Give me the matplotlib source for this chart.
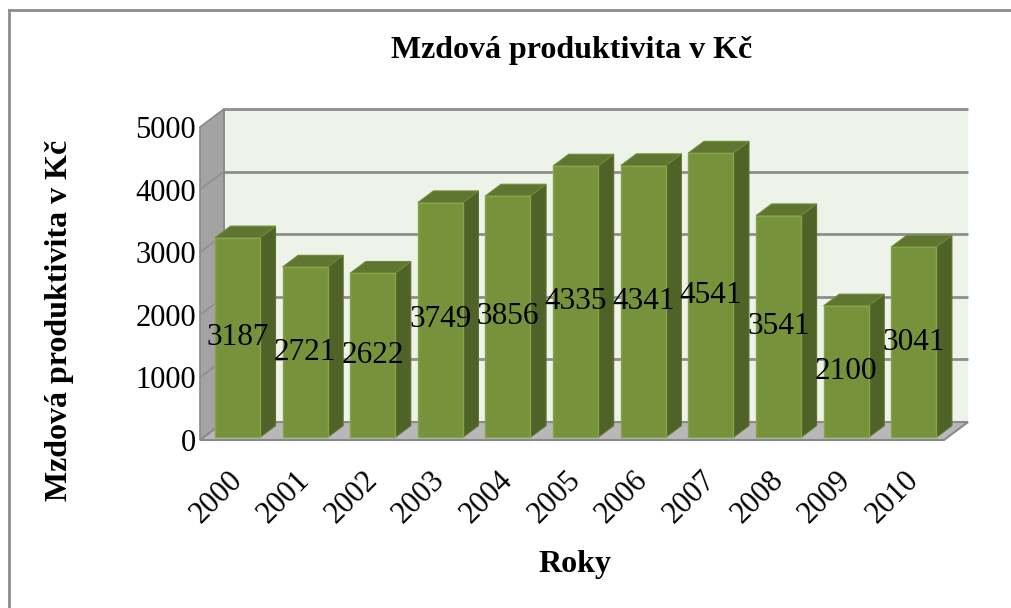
"""
Mzdová produktivita v Kč - 3D-style column chart (Excel look) in plain matplotlib.
"""

import matplotlib
matplotlib.use("Agg")
import matplotlib.pyplot as plt
from matplotlib.patches import Polygon
from matplotlib.lines import Line2D
import matplotlib.transforms as mtransforms
import numpy as np

years = ["2000", "2001", "2002", "2003", "2004", "2005",
         "2006", "2007", "2008", "2009", "2010"]
values = [3187, 2721, 2622, 3749, 3856, 4335, 4341, 4541, 3541, 2100, 3041]
y_ticks = [0, 1000, 2000, 3000, 4000, 5000]

title = "Mzdová produktivita v Kč"
y_label = "Mzdová produktivita v Kč"
x_label = "Roky"

# style
FRONT = "#76933c"
SIDE = "#4f6228"
TOP = "#5f7530"
WALL = "#eef3e9"
GRID = "#8e8e8e"
SIDEWALL = "#a3a3a3"
FLOOR = "#b8b8b8"
FONT = "Liberation Serif"

DEPTH_X = 0.355      # depth of the plot box, in category units
DEPTH_Y = 287.0      # depth of the plot box, in value units
BAR_W = 0.665
BAR_F = 0.15         # front of bar, as fraction of the depth
BAR_D = 0.65         # bar depth, as fraction of the depth

plt.rcParams["font.family"] = [FONT, "DejaVu Serif"]

fig = plt.figure(figsize=(10.11, 6.08), dpi=100)
ax = fig.add_axes([200 / 1011, 168 / 608, 744 / 1011, 313 / 608])
n = len(years)
x = np.arange(n)
xmin, xmax = -0.5, n - 0.5
ymax = y_ticks[-1]
ax.set_xlim(xmin, xmax)
ax.set_ylim(0, ymax)
for s in ax.spines.values():
    s.set_visible(False)
ax.patch.set_visible(False)

# back wall
ax.add_patch(Polygon([(xmin + DEPTH_X, DEPTH_Y), (xmax + DEPTH_X, DEPTH_Y),
                      (xmax + DEPTH_X, ymax + DEPTH_Y), (xmin + DEPTH_X, ymax + DEPTH_Y)],
                     closed=True, facecolor=WALL, edgecolor="none", clip_on=False, zorder=1))
for v in y_ticks[1:]:
    ax.plot([xmin + DEPTH_X, xmax + DEPTH_X], [v + DEPTH_Y, v + DEPTH_Y],
            color=GRID, lw=2, clip_on=False, zorder=2, solid_capstyle="butt")

# left side wall
ax.add_patch(Polygon([(xmin, 0), (xmin + DEPTH_X, DEPTH_Y),
                      (xmin + DEPTH_X, ymax + DEPTH_Y), (xmin, ymax)],
                     closed=True, facecolor=SIDEWALL, edgecolor="#8a8a8a", lw=1.2,
                     clip_on=False, zorder=2))
for v in y_ticks[1:-1]:
    ax.plot([xmin, xmin + DEPTH_X], [v, v + DEPTH_Y], color="#8f8f8f", lw=1.2,
            clip_on=False, zorder=2.5)
ax.plot([xmin + DEPTH_X, xmin + DEPTH_X], [DEPTH_Y, ymax + DEPTH_Y], color="#8a8a8a",
        lw=1.2, clip_on=False, zorder=2.5)

# floor
ax.add_patch(Polygon([(xmin, 0), (xmax, 0), (xmax + DEPTH_X, DEPTH_Y), (xmin + DEPTH_X, DEPTH_Y)],
                     closed=True, facecolor=FLOOR, edgecolor="#8a8a8a", lw=1.5,
                     clip_on=False, zorder=2.6))

# bars
fx, fy = BAR_F * DEPTH_X, BAR_F * DEPTH_Y
bx, by = BAR_D * DEPTH_X, BAR_D * DEPTH_Y
for xi, v in zip(x, values):
    x0 = xi - BAR_W / 2 + fx
    x1 = xi + BAR_W / 2 + fx
    y0, y1 = fy, v + fy
    ax.add_patch(Polygon([(x1, y0), (x1 + bx, y0 + by), (x1 + bx, y1 + by), (x1, y1)],
                         closed=True, facecolor=SIDE, edgecolor="#5d7330", lw=0.8,
                         clip_on=False, zorder=3))
    ax.add_patch(Polygon([(x0, y1), (x1, y1), (x1 + bx, y1 + by), (x0 + bx, y1 + by)],
                         closed=True, facecolor=TOP, edgecolor="#6f8a38", lw=0.8,
                         clip_on=False, zorder=3))
    ax.add_patch(Polygon([(x0, y0), (x1, y0), (x1, y1), (x0, y1)],
                         closed=True, facecolor=FRONT, edgecolor="#86a34a", lw=1.0,
                         clip_on=False, zorder=3))
    ax.text(xi + fx, v / 2 + fy, str(v), ha="center", va="center",
            fontsize=22.5, color="black", zorder=4)

# axes text
ax.set_yticks(y_ticks)
ax.set_yticklabels([str(t) for t in y_ticks], fontsize=22)
ax.tick_params(axis="y", length=0, pad=3)
ax.set_xticks(x)
ax.set_xticklabels(years, fontsize=22, rotation=45, ha="right", va="center",
                   rotation_mode="anchor")
ax.tick_params(axis="x", length=0, pad=26)
offset = mtransforms.ScaledTranslation(0.04, 0, fig.dpi_scale_trans)
for lab in ax.xaxis.get_majorticklabels():
    lab.set_transform(lab.get_transform() + offset)

ax.set_title(title, fontsize=23, fontweight="bold", pad=50)
ax.set_xlabel(x_label, fontsize=23, fontweight="bold")
ax.xaxis.set_label_coords(0.504, -0.35)
ax.set_ylabel(y_label, fontsize=23, fontweight="bold")
ax.yaxis.set_label_coords(-0.169, 0.383)

# chart area border (only left and top are visible in the crop)
fig.add_artist(Line2D([8.5 / 1011, 8.5 / 1011], [0, 1 - 10 / 608], transform=fig.transFigure,
                      color="#8c8c8c", lw=2))
fig.add_artist(Line2D([8.5 / 1011, 1], [1 - 10 / 608, 1 - 10 / 608], transform=fig.transFigure,
                      color="#8c8c8c", lw=2))

fig.savefig("out.png", dpi=100)
